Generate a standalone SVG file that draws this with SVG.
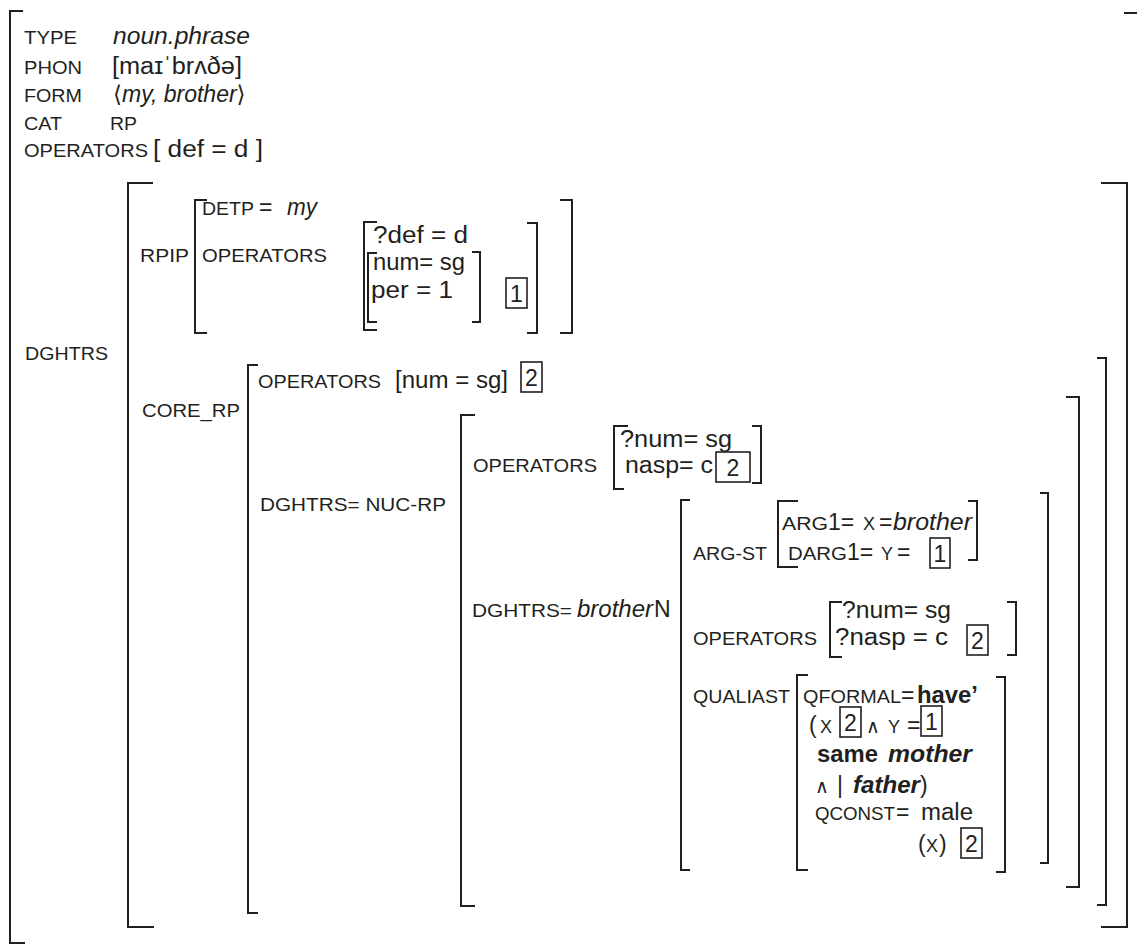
<svg xmlns="http://www.w3.org/2000/svg" width="1137" height="950" viewBox="0 0 1137 950">
<style>
text{font-family:"Liberation Sans","DejaVu Sans",Arial,sans-serif;fill:#231f20}
.l{font-size:18px}
.v{font-size:23px}
.s{font-size:19px}
.i{font-style:italic}
.b{font-weight:bold}
.d{font-size:23px;text-anchor:middle}
.br{fill:none;stroke:#231f20;stroke-width:2}
.bx{fill:none;stroke:#231f20;stroke-width:1.6}
</style>
<rect width="1137" height="950" fill="#ffffff"/>

<g id="brackets">
<path class="br" d="M23,11 H10 V943 H25"/>
<path class="br" d="M1124,13 H1137"/>
<path class="br" d="M153,183 H128 V927 H154"/>
<path class="br" d="M1101,183 H1127 V927 H1101"/>
<path class="br" d="M207,200 H195 V333 H207"/>
<path class="br" d="M560,200 H572 V333 H560"/>
<path class="br" d="M377,222 H364 V330 H377"/>
<path class="br" d="M377,253 H368 V322 H377"/>
<path class="br" d="M472,252 H480 V322 H472"/>
<path class="br" d="M527,223 H537 V333 H527"/>
<path class="br" d="M258,365 H248 V913 H258"/>
<path class="br" d="M1097,358 H1106 V905 H1097"/>
<path class="br" d="M475,415 H461 V906 H475"/>
<path class="br" d="M1066,397 H1079 V887 H1066"/>
<path class="br" d="M628,426 H614 V489 H624"/>
<path class="br" d="M752,426 H761 V483 H752"/>
<path class="br" d="M690,500 H681 V870 H690"/>
<path class="br" d="M1040,493 H1048 V863 H1040"/>
<path class="br" d="M798,501 H778 V567 H798"/>
<path class="br" d="M968,501 H977 V560 H968"/>
<path class="br" d="M842,602 H830 V657 H842"/>
<path class="br" d="M1007,602 H1016 V655 H1007"/>
<path class="br" d="M808,675 H797 V870 H808"/>
<path class="br" d="M996,677 H1005 V872 H996"/>
</g>

<g id="boxes">
<rect class="bx" x="506" y="278" width="21" height="30"/>
<text class="d" x="516.5" y="302">1</text>
<rect class="bx" x="521" y="362" width="21" height="30"/>
<text class="d" x="531.5" y="386">2</text>
<rect class="bx" x="716" y="452" width="34" height="30"/>
<text class="d" x="733" y="476">2</text>
<rect class="bx" x="930" y="538" width="20" height="30"/>
<text class="d" x="940" y="562">1</text>
<rect class="bx" x="967" y="625" width="21" height="30"/>
<text class="d" x="977.5" y="649">2</text>
<rect class="bx" x="840" y="707" width="21" height="30"/>
<text class="d" x="850.5" y="731">2</text>
<rect class="bx" x="921" y="706" width="21" height="30"/>
<text class="d" x="931.5" y="730">1</text>
<rect class="bx" x="961" y="828" width="21" height="30"/>
<text class="d" x="971.5" y="852">2</text>
</g>

<g id="top">
<text class="l" x="24" y="44" textLength="53" lengthAdjust="spacingAndGlyphs">TYPE</text>
<text class="v i" x="113" y="44" textLength="137" lengthAdjust="spacingAndGlyphs">noun.phrase</text>
<text class="l" x="24" y="74" textLength="58" lengthAdjust="spacingAndGlyphs">PHON</text>
<text class="v" x="112" y="74" textLength="130" lengthAdjust="spacingAndGlyphs">[maɪˈbrʌðə]</text>
<text class="l" x="24" y="102" textLength="58" lengthAdjust="spacingAndGlyphs">FORM</text>
<text class="v" x="113" y="102">⟨<tspan class="i">my, brother</tspan>⟩</text>
<text class="l" x="24" y="130" textLength="38" lengthAdjust="spacingAndGlyphs">CAT</text>
<text class="l" x="110" y="130" textLength="27" lengthAdjust="spacingAndGlyphs">RP</text>
<text class="l" x="24" y="157" textLength="124" lengthAdjust="spacingAndGlyphs">OPERATORS</text>
<text class="v" x="153" y="157" textLength="110" lengthAdjust="spacingAndGlyphs">[ def = d ]</text>
<text class="l" x="25" y="360" textLength="83" lengthAdjust="spacingAndGlyphs">DGHTRS</text>
</g>

<g id="rpip">
<text class="l" x="140" y="262" textLength="49" lengthAdjust="spacingAndGlyphs">RPIP</text>
<text class="l" x="202" y="215" textLength="52" lengthAdjust="spacingAndGlyphs">DETP</text>
<text class="v" x="259" y="215">=</text>
<text class="v i" x="287" y="215" textLength="30" lengthAdjust="spacingAndGlyphs">my</text>
<text class="l" x="202" y="262" textLength="125" lengthAdjust="spacingAndGlyphs">OPERATORS</text>
<text class="v" x="373" y="243" textLength="95" lengthAdjust="spacingAndGlyphs">?def = d</text>
<text class="v" x="373" y="270" textLength="92" lengthAdjust="spacingAndGlyphs">num= sg</text>
<text class="v" x="371" y="298" textLength="82" lengthAdjust="spacingAndGlyphs">per = 1</text>
</g>

<g id="core_rp">
<text class="l" x="142" y="417" textLength="98" lengthAdjust="spacingAndGlyphs">CORE_RP</text>
<text class="l" x="258" y="388" textLength="123" lengthAdjust="spacingAndGlyphs">OPERATORS</text>
<text class="v" x="395" y="388" textLength="113" lengthAdjust="spacingAndGlyphs">[num = sg]</text>
<text class="l" x="260" y="511" textLength="186" lengthAdjust="spacingAndGlyphs">DGHTRS=  NUC-RP</text>
</g>

<g id="nuc_rp">
<text class="l" x="473" y="472" textLength="124" lengthAdjust="spacingAndGlyphs">OPERATORS</text>
<text class="v" x="620" y="447" textLength="112" lengthAdjust="spacingAndGlyphs">?num= sg</text>
<text class="v" x="625" y="473" textLength="88" lengthAdjust="spacingAndGlyphs">nasp= c</text>
<text class="l" x="472" y="617" textLength="100" lengthAdjust="spacingAndGlyphs">DGHTRS=</text>
<text class="v i" x="577" y="617" textLength="76" lengthAdjust="spacingAndGlyphs">brother</text>
<text class="v" x="654" y="617">N</text>
</g>

<g id="brotherN">
<text class="l" x="693" y="560" textLength="74" lengthAdjust="spacingAndGlyphs">ARG-ST</text>
<text class="l" x="782" y="530" textLength="46" lengthAdjust="spacingAndGlyphs">ARG</text>
<text class="v" x="828" y="530">1=</text>
<text class="l" x="863" y="530">X</text>
<text class="v" x="879" y="530">=</text>
<text class="v i" x="893" y="530" textLength="79" lengthAdjust="spacingAndGlyphs">brother</text>
<text class="l" x="788" y="560" textLength="59" lengthAdjust="spacingAndGlyphs">DARG</text>
<text class="v" x="847" y="560">1=</text>
<text class="l" x="881" y="560">Y</text>
<text class="v" x="897" y="560">=</text>
<text class="l" x="693" y="645" textLength="124" lengthAdjust="spacingAndGlyphs">OPERATORS</text>
<text class="v" x="842" y="618" textLength="109" lengthAdjust="spacingAndGlyphs">?num= sg</text>
<text class="v" x="835" y="645" textLength="113" lengthAdjust="spacingAndGlyphs">?nasp = c</text>
</g>

<g id="qualiast">
<text class="l" x="693" y="703" textLength="97" lengthAdjust="spacingAndGlyphs">QUALIAST</text>
<text class="l" x="803" y="703" textLength="98" lengthAdjust="spacingAndGlyphs">QFORMAL</text>
<text class="v" x="901" y="703">=</text>
<text class="v b" x="917" y="703" textLength="61" lengthAdjust="spacingAndGlyphs">have’</text>
<text class="v" x="809" y="733">(</text>
<text class="l" x="820" y="733">X</text>
<text class="s" x="866" y="733">∧</text>
<text class="l" x="888" y="733">Y</text>
<text class="v" x="907" y="733">=</text>
<text class="v b" x="817" y="762" textLength="61" lengthAdjust="spacingAndGlyphs">same</text>
<text class="v b i" x="888" y="762" textLength="84" lengthAdjust="spacingAndGlyphs">mother</text>
<text class="s" x="815" y="793">∧</text>
<text class="v" x="837" y="793">|</text>
<text class="v b i" x="853" y="793" textLength="67" lengthAdjust="spacingAndGlyphs">father</text>
<text class="v" x="920" y="793">)</text>
<text class="l" x="815" y="820" textLength="80" lengthAdjust="spacingAndGlyphs">QCONST</text>
<text class="v" x="896" y="820">=</text>
<text class="v" x="921" y="820" textLength="52" lengthAdjust="spacingAndGlyphs">male</text>
<text class="v" x="918" y="852">(</text>
<text class="l" x="926" y="852">X</text>
<text class="v" x="939" y="852">)</text>
</g>
</svg>
